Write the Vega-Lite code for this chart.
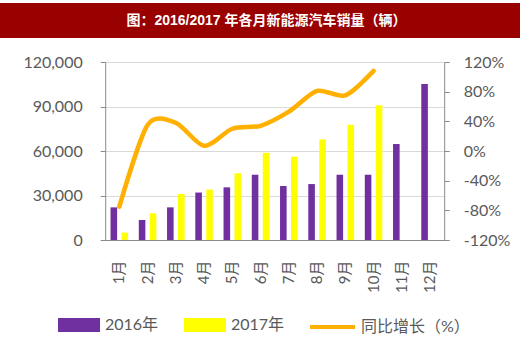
{
  "$schema": "https://vega.github.io/schema/vega-lite/v6.json",
  "padding": {"top": 3, "left": 0, "right": -95, "bottom": 0},
  "background": "white",
  "columns": 1,
  "center": true,
  "spacing": 16,
  "config": {
    "view": {"stroke": null},
    "font": "Lato, 'Noto Sans CJK SC'"
  },
  "datasets": {
    "sales": [
      {"month": "1月", "series": "2016年", "sales": 22000},
      {"month": "2月", "series": "2016年", "sales": 13500},
      {"month": "3月", "series": "2016年", "sales": 22000},
      {"month": "4月", "series": "2016年", "sales": 32000},
      {"month": "5月", "series": "2016年", "sales": 35500},
      {"month": "6月", "series": "2016年", "sales": 44000},
      {"month": "7月", "series": "2016年", "sales": 36400},
      {"month": "8月", "series": "2016年", "sales": 37700},
      {"month": "9月", "series": "2016年", "sales": 44000},
      {"month": "10月", "series": "2016年", "sales": 44000},
      {"month": "11月", "series": "2016年", "sales": 64700},
      {"month": "12月", "series": "2016年", "sales": 105100},
      {"month": "1月", "series": "2017年", "sales": 5000},
      {"month": "2月", "series": "2017年", "sales": 18000},
      {"month": "3月", "series": "2017年", "sales": 31000},
      {"month": "4月", "series": "2017年", "sales": 34000},
      {"month": "5月", "series": "2017年", "sales": 45000},
      {"month": "6月", "series": "2017年", "sales": 58800},
      {"month": "7月", "series": "2017年", "sales": 56200},
      {"month": "8月", "series": "2017年", "sales": 67800},
      {"month": "9月", "series": "2017年", "sales": 77700},
      {"month": "10月", "series": "2017年", "sales": 90800}
    ],
    "growth": [
      {"month": "1月", "growth": -0.75},
      {"month": "2月", "growth": 0.35},
      {"month": "3月", "growth": 0.38},
      {"month": "4月", "growth": 0.07},
      {"month": "5月", "growth": 0.30},
      {"month": "6月", "growth": 0.34},
      {"month": "7月", "growth": 0.53},
      {"month": "8月", "growth": 0.81},
      {"month": "9月", "growth": 0.75},
      {"month": "10月", "growth": 1.08}
    ],
    "heading": [
      {"t": "图：2016/2017 年各月新能源汽车销量（辆）"}
    ]
  },
  "concat": [
    {
      "width": 615,
      "height": 35,
      "view": {"fill": "#990000", "stroke": null},
      "data": {"name": "heading"},
      "mark": {"type": "text", "color": "white", "fontWeight": "bold", "fontSize": 14, "font": "'Liberation Sans', 'Noto Sans CJK SC'", "dx": -41},
      "encoding": {
        "text": {"field": "t", "type": "nominal"},
        "x": {"datum": 0.5, "type": "quantitative", "scale": {"domain": [0, 1]}, "axis": null},
        "y": {"datum": 0.5, "type": "quantitative", "scale": {"domain": [0, 1]}, "axis": null}
      }
    },
    {
      "width": 339,
      "height": 178,
      "resolve": {"scale": {"y": "independent"}},
      "layer": [
        {
          "data": {"name": "sales"},
          "mark": {"type": "bar"},
          "encoding": {
            "x": {
              "field": "month", "type": "ordinal",
              "scale": {"domain": ["1月","2月","3月","4月","5月","6月","7月","8月","9月","10月","11月","12月"], "paddingInner": 0.3, "paddingOuter": 0.15},
              "axis": {"title": null, "labelAngle": -90, "labelFontSize": 15, "labelColor": "#595959", "ticks": false, "tickSize": 0, "labelPadding": 20, "domainColor": "#898989", "grid": false}
            },
            "xOffset": {"field": "series", "type": "nominal", "sort": ["2016年", "2017年"], "scale": {"paddingInner": 0.4, "paddingOuter": 0.1}},
            "y": {
              "field": "sales", "type": "quantitative",
              "scale": {"domain": [0, 120000]},
              "axis": {"title": null, "values": [0, 30000, 60000, 90000, 120000], "format": ",d", "labelFontSize": 16, "labelColor": "#595959", "labelPadding": 18, "tickSize": 5, "tickColor": "#898989", "domainColor": "#898989", "gridColor": "#D9D9D9", "minExtent": 99}
            },
            "fill": {
              "field": "series", "type": "nominal",
              "scale": {"domain": ["2016年", "2017年"], "range": ["#7030A0", "#FFFF00"]},
              "legend": {
                "title": null, "orient": "none", "legendX": 58, "legendY": 301, "direction": "horizontal", "padding": 0,
                "symbolType": "M-1,-0.33H1V0.33H-1Z", "symbolSize": 1764, "symbolStrokeWidth": 0,
                "labelFontSize": 16, "labelColor": "#595959", "columnPadding": 25, "labelOffset": 5
              }
            }
          }
        },
        {
          "data": {"name": "growth"},
          "mark": {"type": "line", "interpolate": "cardinal", "tension": 0.2, "strokeWidth": 4.5, "strokeCap": "round"},
          "encoding": {
            "x": {"field": "month", "type": "ordinal"},
            "y": {
              "field": "growth", "type": "quantitative",
              "scale": {"domain": [-1.2, 1.2]},
              "axis": {"orient": "right", "title": null, "values": [-1.2, -0.8, -0.4, 0, 0.4, 0.8, 1.2], "labelExpr": "round(datum.value*100) + '%'", "labelFontSize": 16, "labelColor": "#595959", "labelPadding": 14, "tickSize": 5, "tickColor": "#898989", "domainColor": "#898989", "grid": false}
            },
            "stroke": {
              "datum": "同比增长（%）", "type": "nominal",
              "scale": {"domain": ["同比增长（%）"], "range": ["#FFB000"]},
              "legend": {
                "title": null, "orient": "none", "legendX": 308, "legendY": 299.5, "direction": "horizontal", "padding": 0,
                "symbolType": "stroke", "symbolSize": 2025, "symbolStrokeWidth": 4,
                "labelFontSize": 16, "labelColor": "#595959", "labelOffset": 4
              }
            }
          }
        }
      ]
    }
  ]
}
